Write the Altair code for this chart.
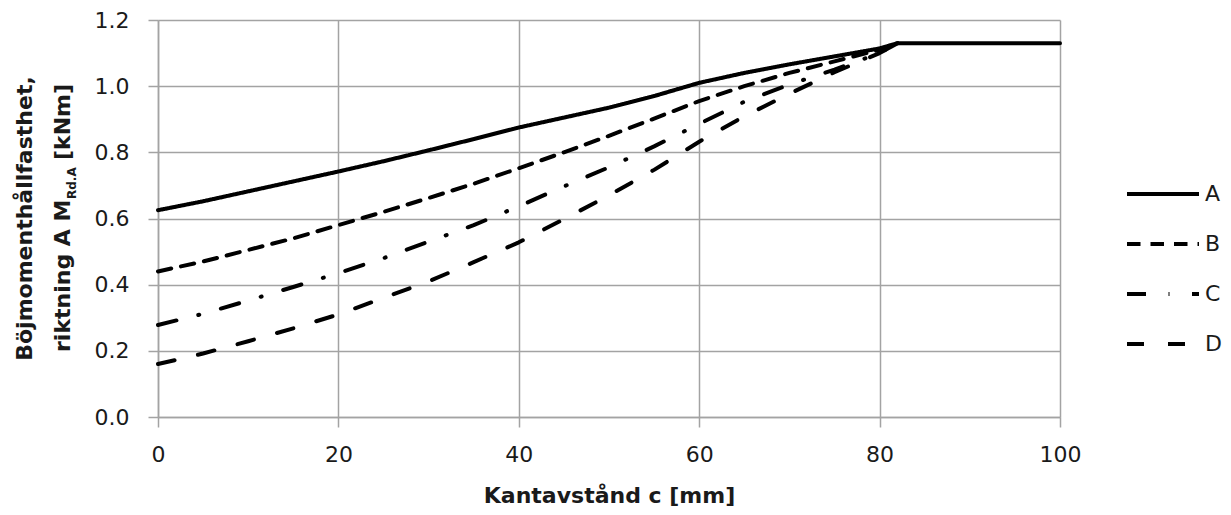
import altair as alt
import pandas as pd

# Edge distance c [mm] at which each curve was sampled
dist_mm = [0, 5, 10, 15, 20, 25, 30, 35, 40, 45, 50, 55, 60, 65, 70, 75, 80, 82]

# Bending moment resistance M_Rd.A [kNm] per case
moment_a = [0.625, 0.652, 0.682, 0.712, 0.742, 0.773, 0.806, 0.840, 0.875, 0.905,
            0.935, 0.970, 1.010, 1.040, 1.066, 1.090, 1.114, 1.130]
moment_b = [0.440, 0.470, 0.505, 0.540, 0.580, 0.620, 0.662, 0.705, 0.752, 0.800,
            0.850, 0.902, 0.955, 1.000, 1.040, 1.075, 1.110, 1.130]
moment_c = [0.278, 0.312, 0.352, 0.393, 0.435, 0.480, 0.530, 0.580, 0.637, 0.697,
            0.755, 0.818, 0.886, 0.953, 1.005, 1.050, 1.100, 1.130]
moment_d = [0.160, 0.192, 0.229, 0.268, 0.310, 0.360, 0.410, 0.468, 0.528, 0.598,
            0.670, 0.747, 0.832, 0.909, 0.977, 1.042, 1.100, 1.130]

# Case A keeps its plateau out to the end of the axis
plateau_mm = [100]
plateau_a = [1.130]

series_names = ["A", "B", "C", "D"]
x_ticks = [0, 20, 40, 60, 80, 100]
y_ticks = [0.0, 0.2, 0.4, 0.6, 0.8, 1.0, 1.2]

x_title = "Kantavstånd c [mm]"
y_title_top = "Böjmomenthållfasthet,"
y_title_main = "riktning A M"
y_title_sub = "Rd.A"
y_title_unit = "[kNm]"

rows = []
for name, vals in zip(series_names, [moment_a, moment_b, moment_c, moment_d]):
    for c, m in zip(dist_mm, vals):
        rows.append({"c": c, "m": m, "serie": name})
for c, m in zip(plateau_mm, plateau_a):
    rows.append({"c": c, "m": m, "serie": "A"})
df = pd.DataFrame(rows)

FONT = "DejaVu Sans"
TXT = "#1a1a1a"
GRID = "#a3a3a3"

lines = alt.Chart(df).mark_line(
    color="black", strokeWidth=4, strokeCap="round", strokeJoin="round"
).encode(
    x=alt.X(
        "c:Q",
        scale=alt.Scale(domain=[0, 100], nice=False),
        axis=alt.Axis(values=x_ticks, title=x_title, titlePadding=20, labelFlush=False),
    ),
    y=alt.Y(
        "m:Q",
        scale=alt.Scale(domain=[0, 1.2], nice=False),
        axis=alt.Axis(values=y_ticks, format=".1f", title=None, labelPadding=19,
                      labelFlush=False),
    ),
    strokeDash=alt.StrokeDash(
        "serie:N",
        scale=alt.Scale(
            domain=series_names,
            range=[[1, 0], [13.5, 10], [19, 22.5, 1, 22.5], [17, 24]],
        ),
        legend=alt.Legend(
            title=None,
            orient="none",
            legendX=967,
            legendY=136,
            symbolType="stroke",
            symbolSize=5184,
            symbolStrokeWidth=4,
            symbolStrokeColor="black",
            labelFont=FONT,
            labelFontSize=22,
            labelColor=TXT,
            labelOffset=4,
            rowPadding=1,
            padding=0,
        ),
    ),
    order=alt.Order("c:Q"),
)

# Two-line rotated y title, with the subscript drawn as its own smaller text
title_top = alt.Chart(pd.DataFrame({"t": [y_title_top]})).mark_text(
    angle=270, align="center", baseline="alphabetic", font=FONT,
    fontSize=22, fontWeight="bold", color=TXT,
).encode(x=alt.value(-126), y=alt.value(198.5), text="t:N")

title_main = alt.Chart(pd.DataFrame({"t": [y_title_main]})).mark_text(
    angle=270, align="left", baseline="alphabetic", font=FONT,
    fontSize=22, fontWeight="bold", color=TXT,
).encode(x=alt.value(-88), y=alt.value(332), text="t:N")

title_sub = alt.Chart(pd.DataFrame({"t": [y_title_sub]})).mark_text(
    angle=270, align="left", baseline="alphabetic", font=FONT,
    fontSize=12, fontWeight="bold", color=TXT,
).encode(x=alt.value(-82), y=alt.value(179), text="t:N")

title_unit = alt.Chart(pd.DataFrame({"t": [y_title_unit]})).mark_text(
    angle=270, align="left", baseline="alphabetic", font=FONT,
    fontSize=22, fontWeight="bold", color=TXT,
).encode(x=alt.value(-88), y=alt.value(140), text="t:N")

chart = alt.layer(lines, title_top, title_main, title_sub, title_unit).properties(
    width=902,
    height=397,
    autosize=alt.AutoSizeParams(type="none"),
    padding={"left": 158, "top": 20, "right": 171, "bottom": 98},
    background="white",
).configure_view(
    stroke=None
).configure_axis(
    labelFont=FONT,
    labelFontSize=22,
    labelColor=TXT,
    titleFont=FONT,
    titleFontSize=22,
    titleFontWeight="bold",
    titleColor=TXT,
    domainColor=GRID,
    domainWidth=1.5,
    gridColor=GRID,
    gridWidth=1.5,
    tickColor=GRID,
    tickWidth=1.5,
    tickSize=10,
    labelPadding=17,
)

chart.save("out.html", embed_options={"renderer": "svg", "actions": False})
